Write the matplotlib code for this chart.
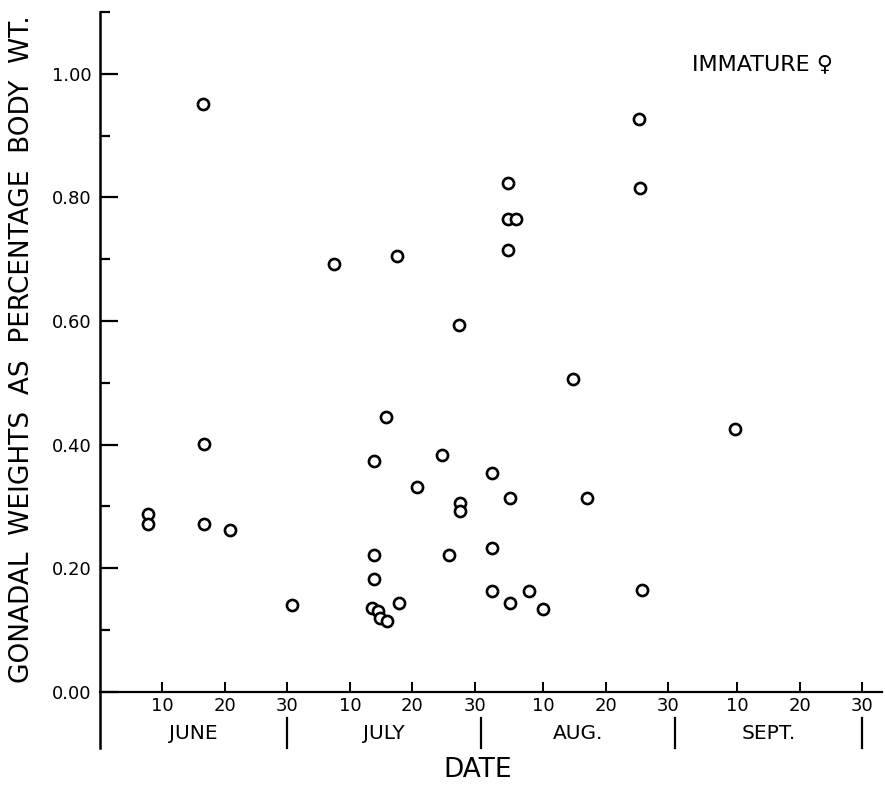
import matplotlib
matplotlib.use("Agg")
import matplotlib.pyplot as plt
import numpy as np

# ====================
# Data
# ====================
# date as days since May 31 (June 10 = 10, July 10 = 40, Aug 10 = 71, Sept 10 = 102)
days = [7.7, 7.7, 16.5, 16.7, 16.7, 20.8, 30.8, 37.5, 43.8, 43.9, 43.9,
        43.6, 44.5, 44.8, 45.9, 45.8, 47.5, 47.8, 50.7, 54.7, 55.8, 57.5,
        57.6, 57.6, 62.7, 62.7, 62.7, 65.4, 65.4, 66.6, 65.4, 65.6, 65.6,
        68.7, 70.9, 75.7, 77.9, 86.3, 86.5, 86.8, 101.6]
gonad_pct = [0.288, 0.271, 0.951, 0.401, 0.271, 0.261, 0.141, 0.693, 0.373,
             0.222, 0.182, 0.136, 0.130, 0.120, 0.114, 0.445, 0.705, 0.144,
             0.332, 0.383, 0.222, 0.594, 0.305, 0.292, 0.354, 0.233, 0.163,
             0.824, 0.765, 0.765, 0.715, 0.313, 0.144, 0.163, 0.134, 0.506,
             0.314, 0.927, 0.815, 0.164, 0.426]

month_names = ["JUNE", "JULY", "AUG.", "SEPT."]
month_start = [0, 30, 61, 92]
month_end = [30, 61, 92, 122]
tick_days = [10, 20, 30, 40, 50, 60, 71, 81, 91, 102, 112, 122]
tick_labels = ["10", "20", "30"] * 4

y_major = [0.0, 0.2, 0.4, 0.6, 0.8, 1.0]
y_major_labels = ["0.00", "0.20", "0.40", "0.60", "0.80", "1.00"]
y_minor = [0.1, 0.3, 0.5, 0.7, 0.9, 1.1]

plt.rcParams['font.family'] = ['DejaVu Sans']

fig = plt.figure(figsize=(8.85, 7.91), dpi=100)
ax = fig.add_axes([0.113, 0.0544, 0.8836, 0.9304])

ax.plot(days, gonad_pct, linestyle='none', marker='o', markersize=8,
        markerfacecolor='white', markeredgecolor='black', markeredgewidth=1.9)

ax.set_xlim(0, 125.2)
ax.set_ylim(-0.091, 1.10)

for side in ['top', 'right']:
    ax.spines[side].set_visible(False)
ax.spines['bottom'].set_position(('data', 0))
ax.spines['left'].set_linewidth(1.8)
ax.spines['bottom'].set_linewidth(1.6)

ax.set_yticks(y_major)
ax.set_yticklabels(y_major_labels, fontsize=13)
ax.set_yticks(y_minor, minor=True)
ax.tick_params(axis='y', which='major', direction='in', length=13, width=1.6, pad=6)
ax.tick_params(axis='y', which='minor', direction='in', length=7, width=1.6)

ax.set_xticks(tick_days)
ax.set_xticklabels(tick_labels, fontsize=13)
ax.tick_params(axis='x', which='major', direction='in', length=7, width=1.4, pad=4)

# month separators and names below the axis
for s, e, name in zip(month_start, month_end, month_names):
    ax.plot([e, e], [-0.042, -0.091], color='black', lw=1.6, clip_on=False)
    ax.text((s + e) / 2, -0.068, name, ha='center', va='center', fontsize=14.5)

ax.text(60.4, -0.127, "DATE", ha='center', va='center', fontsize=19, clip_on=False)
fig.text(22 / 885, 1 - 349 / 791, "GONADAL  WEIGHTS  AS  PERCENTAGE  BODY  WT.",
         rotation=90, ha='center', va='center', fontsize=19)
ax.text(106, 1.016, "IMMATURE \u2640", ha='center', va='center', fontsize=16)

fig.savefig("out.png", dpi=100, facecolor='white')
